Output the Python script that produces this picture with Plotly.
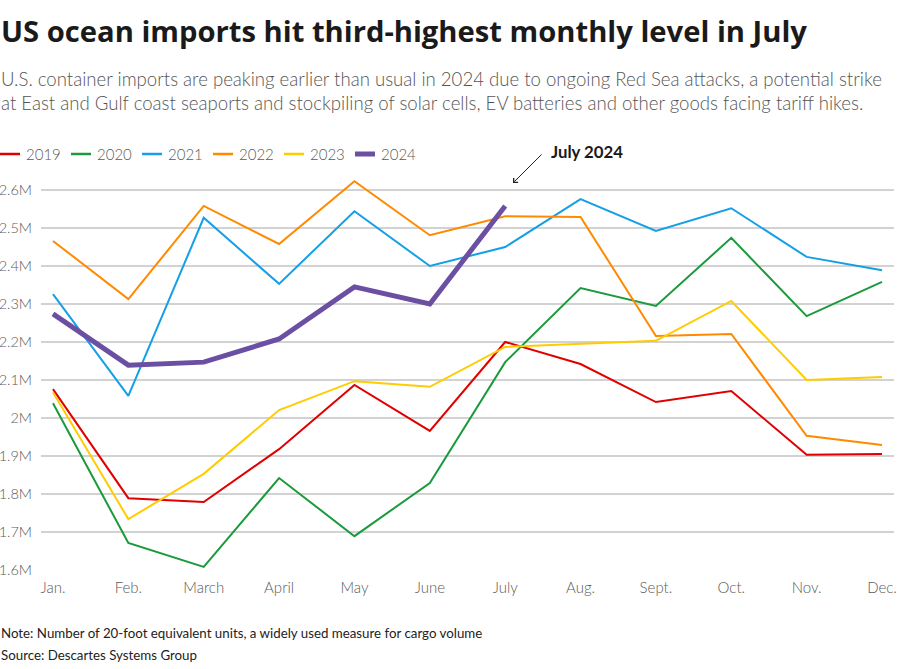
import plotly.graph_objects as go

months = ["Jan.", "Feb.", "March", "April", "May", "June", "July", "Aug.", "Sept.", "Oct.", "Nov.", "Dec."]

y2019 = [2.076, 1.789, 1.779, 1.918, 2.087, 1.966, 2.200, 2.142, 2.042, 2.071, 1.903, 1.905]
y2020 = [2.039, 1.671, 1.608, 1.842, 1.689, 1.829, 2.147, 2.342, 2.295, 2.474, 2.268, 2.358]
y2021 = [2.326, 2.058, 2.527, 2.353, 2.544, 2.400, 2.450, 2.576, 2.492, 2.552, 2.424, 2.389]
y2022 = [2.466, 2.313, 2.558, 2.458, 2.623, 2.481, 2.531, 2.529, 2.216, 2.221, 1.953, 1.929]
y2023 = [2.068, 1.734, 1.853, 2.021, 2.097, 2.082, 2.187, 2.195, 2.203, 2.308, 2.100, 2.108]
y2024 = [2.274, 2.139, 2.147, 2.208, 2.345, 2.300, 2.558]

series = [
    ("2019", y2019, "#e00000", 2),
    ("2020", y2020, "#1a9a3c", 2),
    ("2021", y2021, "#149fe6", 2),
    ("2022", y2022, "#ff8a00", 2),
    ("2023", y2023, "#ffcc00", 2),
    ("2024", y2024, "#6a4fa3", 5),
]

ytick_vals = [1.6, 1.7, 1.8, 1.9, 2.0, 2.1, 2.2, 2.3, 2.4, 2.5, 2.6]
ytick_text = ["1.6M", "1.7M", "1.8M", "1.9M", "2M", "2.1M", "2.2M", "2.3M", "2.4M", "2.5M", "2.6M"]

FONT = "Lato"
W, H = 900, 669
ML, MR, MT, MB = 41, 6, 171, 99
PW = W - ML - MR
PH = H - MT - MB


def px(xpix):
    return (xpix - ML) / PW


def py(ypix):
    return (H - MB - ypix) / PH


fig = go.Figure()
for name, vals, color, w in series:
    fig.add_trace(go.Scatter(
        x=list(range(len(vals))), y=vals, name=name, mode="lines",
        line=dict(color=color, width=w), hoverinfo="skip", showlegend=False,
    ))

fig.update_layout(
    width=W, height=H,
    margin=dict(l=ML, r=MR, t=MT, b=MB, autoexpand=False),
    plot_bgcolor="white", paper_bgcolor="white",
    font=dict(family=FONT, color="#555555"),
    showlegend=False,
    xaxis=dict(range=[-0.159, 11.159], tickmode="array",
               tickvals=list(range(12)), ticktext=months,
               showgrid=False, zeroline=False, showline=False,
               ticks="outside", ticklen=4, tickcolor="rgba(0,0,0,0)", automargin=False,
               tickfont=dict(size=15, color="#5a5a5a", family=FONT, weight=300), fixedrange=True),
    yaxis=dict(range=[1.6, 2.65], tickmode="array", tickvals=ytick_vals, ticktext=ytick_text,
               showgrid=True, gridcolor="#d2d2d2", gridwidth=1.5, zeroline=False, showline=False,
               ticks="", ticklabelstandoff=8, automargin=False,
               tickfont=dict(size=14.5, color="#5a5a5a", family=FONT, weight=300), fixedrange=True),
)

# legend (manual)
leg_y = py(154)
for i, (name, vals, color, w) in enumerate(series):
    x0 = i * 71
    fig.add_shape(type="line", xref="paper", yref="paper",
                  x0=px(x0), x1=px(x0 + 20), y0=leg_y, y1=leg_y,
                  line=dict(color=color, width=w if w > 2 else 2.5))
    fig.add_annotation(text=name, xref="paper", yref="paper", x=px(x0 + 24), y=leg_y,
                       xanchor="left", yanchor="middle", showarrow=False,
                       font=dict(size=15, color="#5a5a5a", family=FONT, weight=300))

fig.add_annotation(
    text="<b>US ocean imports hit third-highest monthly level in July</b>",
    xref="paper", yref="paper", x=px(-1), y=py(31),
    xanchor="left", yanchor="middle", showarrow=False,
    font=dict(size=29.2, color="#1a1a1a", family="Open Sans"),
)
fig.add_annotation(
    text="U.S. container imports are peaking earlier than usual in 2024 due to ongoing Red Sea attacks, a potential strike<br>at East and Gulf coast seaports and stockpiling of solar cells, EV batteries and other goods facing tariff hikes.",
    xref="paper", yref="paper", x=px(-1), y=py(90.5),
    xanchor="left", yanchor="middle", align="left", showarrow=False,
    font=dict(size=18.6, color="#555555", family=FONT, weight=300),
)
fig.add_annotation(
    text="Note: Number of 20-foot equivalent units, a widely used measure for cargo volume",
    xref="paper", yref="paper", x=px(-1), y=py(633),
    xanchor="left", yanchor="middle", align="left", showarrow=False,
    font=dict(size=13.3, color="#222222", family=FONT),
)
fig.add_annotation(
    text="Source: Descartes Systems Group",
    xref="paper", yref="paper", x=px(-1), y=py(655),
    xanchor="left", yanchor="middle", align="left", showarrow=False,
    font=dict(size=13.3, color="#222222", family=FONT),
)
# arrow to July 2024 point
fig.add_annotation(
    x=px(513), y=py(183), xref="paper", yref="paper", text="", showarrow=True,
    ax=30, ay=-30, arrowhead=4, arrowsize=1.2, arrowwidth=1, arrowcolor="#222222",
)
fig.add_annotation(
    text="<b>July 2024</b>", x=px(549), y=py(152), xref="paper", yref="paper",
    xanchor="left", yanchor="middle", showarrow=False,
    font=dict(size=16.8, color="#1a1a1a", family=FONT),
)

fig.write_html("out.html", config={"displayModeBar": False},
               post_script="document.body.style.margin='0';document.body.style.padding='0';")
